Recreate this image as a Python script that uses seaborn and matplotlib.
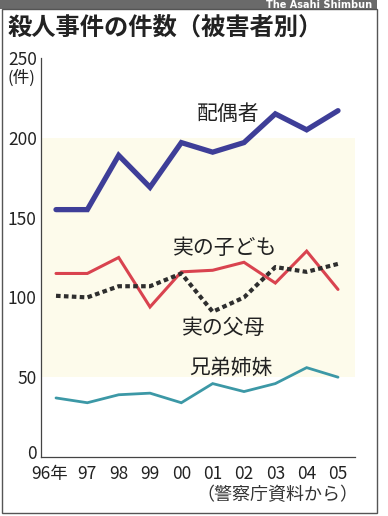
import numpy as np
import pandas as pd
import seaborn as sns
import matplotlib.pyplot as plt
from matplotlib import transforms
from matplotlib.patches import Rectangle

years = ["96年", "97", "98", "99", "00", "01", "02", "03", "04", "05"]
spouse = [155, 155, 189, 169, 197, 191, 197, 215, 205, 217]
children = [115, 115, 125, 94, 116, 117, 122, 109, 129, 105]
parents = [101, 100, 107, 107, 115, 91, 100, 119, 116, 121]
siblings = [37, 34, 39, 40, 34, 46, 41, 46, 56, 50]

sns.set_style("white")
plt.rcParams['font.family'] = ['Noto Sans CJK JP', 'DejaVu Sans']

W, H = 388, 516
fig = plt.figure(figsize=(W / 100, H / 100), dpi=100)
fig.patch.set_facecolor("white")

# axes placed in pixel terms
left, right, top, bottom = 41, 355, 58, 457
ax = fig.add_axes([left / W, 1 - bottom / H, (right - left) / W, (bottom - top) / H])
ax.set_facecolor("white")

x = np.arange(len(years))
df = pd.DataFrame({"x": x, "spouse": spouse, "children": children,
                   "parents": parents, "siblings": siblings})

ax.axhspan(50, 200, color="#fdfbeb", zorder=0, lw=0)

sns.lineplot(data=df, x="x", y="spouse", ax=ax, color="#3e3e98", lw=3.8,
             solid_joinstyle="miter")
sns.lineplot(data=df, x="x", y="children", ax=ax, color="#d9434f", lw=2.2,
             solid_joinstyle="miter")
sns.lineplot(data=df, x="x", y="parents", ax=ax, color="#2e2e2e", lw=3.0,
             linestyle=(0, (1.1, 0.8)), dash_capstyle="butt")
sns.lineplot(data=df, x="x", y="siblings", ax=ax, color="#3c98a6", lw=2.0,
             solid_joinstyle="miter")

px = (338 - 56) / 9
ax.set_xlim((left - 56) / px, (right - 56) / px)
ax.set_ylim(0, 250)
ax.set_xticks(x)
ax.set_xticklabels(years)
ax.set_yticks([0, 50, 100, 150, 200, 250])
ax.set_xlabel("")
ax.set_ylabel("")
ax.tick_params(axis="both", direction="in", length=6, width=0.8, color="#444",
               labelsize=12.5, labelcolor="#222")
ax.tick_params(axis="x", pad=6)
ax.tick_params(axis="y", pad=3)
for s in ["top", "right"]:
    ax.spines[s].set_visible(False)
for s in ["left", "bottom"]:
    ax.spines[s].set_color("#444")
    ax.spines[s].set_linewidth(0.9)

# first label "96年" sits a bit to the left, "0" a bit up
lab0 = ax.get_xticklabels()[0]
lab0.set_transform(lab0.get_transform() + transforms.ScaledTranslation(-6 / 100, 0, fig.dpi_scale_trans))
laby0 = ax.get_yticklabels()[0]
laby0.set_transform(laby0.get_transform() + transforms.ScaledTranslation(0, 5 / 100, fig.dpi_scale_trans))

# series labels
lab_kw = dict(fontsize=15, color="#222", ha="center", va="center")
ax.text(5.49, 215, "配偶者", **lab_kw)
ax.text(5.40, 131, "実の子ども", **lab_kw)
ax.text(5.36, 81, "実の父母", **lab_kw)
ax.text(5.60, 56, "兄弟姉妹", **lab_kw)

# unit, title, source
fig.text(21 / W, 1 - 78 / H, "(件)", fontsize=12, color="#222", ha="center", va="center")
fig.text(8 / W, 1 - 28 / H, "殺人事件の件数（被害者別）", fontsize=17.5, fontweight="bold",
         color="#222", ha="left", va="center")
fig.text(358 / W, 1 - 495 / H, "（警察庁資料から）", fontsize=13, color="#333",
         ha="right", va="center")

# header bar and frame
fig.patches.append(Rectangle((0, 1 - 9 / H), 377 / W, 9 / H, transform=fig.transFigure,
                             facecolor="#6a6a6a", edgecolor="none", zorder=0))
fig.text(372 / W, 1 - 4.5 / H, "The Asahi Shimbun", fontsize=7, fontweight="bold",
         color="white", ha="right", va="center", family="DejaVu Sans")
fig.patches.append(Rectangle((2 / W, 1 - 513 / H), 375 / W, 504 / H, transform=fig.transFigure,
                             facecolor="none", edgecolor="#555", lw=1.0, zorder=0))

fig.savefig("out.png", dpi=100)
